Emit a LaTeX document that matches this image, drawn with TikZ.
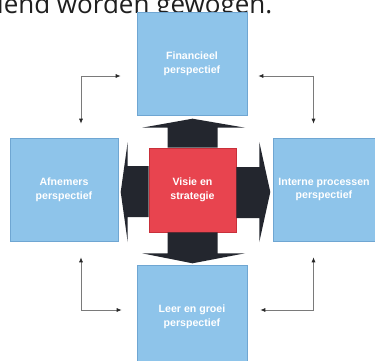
\documentclass[tikz,border=0pt]{standalone}
\usepackage{fontspec}
\newfontfamily\boxfont{Liberation Sans}
\newfontfamily\headfont{Open Sans}
\usetikzlibrary{arrows.meta,calc}
\definecolor{boxblue}{HTML}{8EC4EA}
\definecolor{boxedge}{HTML}{6FA6D2}
\definecolor{visred}{HTML}{E8444F}
\definecolor{rededge}{HTML}{C8303A}
\definecolor{blockblack}{HTML}{23262E}
\definecolor{connline}{HTML}{7A7A7A}
\tikzset{
  persp/.style={draw=boxedge, line width=0.6pt, fill=boxblue, minimum width=110pt, minimum height=103pt, inner sep=0pt,
    align=center, text=white, font=\boxfont\bfseries\fontsize{10.6}{13.8}\selectfont},
  visbox/.style={persp, draw=rededge, fill=visred, minimum width=87pt, minimum height=84pt},
  blk/.style={fill=blockblack},
  conn/.style={draw=connline, line width=0.7pt, {Latex[length=5pt,width=4pt,color=black!85]}-{Latex[length=5pt,width=4pt,color=black!85]}}
}
\begin{document}
\begin{tikzpicture}[x=1pt,y=-1pt]
\useasboundingbox (0,0) rectangle (375,361);
\fill[white] (0,0) rectangle (375,361);
% heading line (cut off at top)
\node[anchor=base west, inner sep=0pt, text=black!88, font=\headfont\fontsize{26}{30}\selectfont] (head) at (-3,13.5) {lend worden gewogen.};
% boxes
\node[persp] (fin) at (192,64) {Financieel\\perspectief};
\node[persp, minimum width=108pt] (afn) at (64,189.5) {Afnemers\\perspectief};
\node[persp] (int) at (328,189.5) {};
\node[align=center, text=white, font=\boxfont\bfseries\fontsize{10.6}{13.8}\selectfont, inner sep=0pt] (intlabel) at (324,189.5) {Interne processen\\perspectief};
\node[persp] (leer) at (192,316.5) {Leer en groei\\perspectief};
\node[visbox] (vis) at (192.5,190) {Visie en\\strategie};
% block arrows
\fill[blk] ($(vis.north)+(-25,0)$) -- ++(0,-20) -- ++(-25.5,0) -- ($(vis.north)+(0,-29)$)
  -- ($(vis.north)+(52.5,-20)$) -- ($(vis.north)+(25,-20)$) -- ($(vis.north)+(25,0)$) -- cycle;
\fill[blk] ($(vis.south)+(-25,0)$) -- ++(0,21) -- ++(-25.5,0) -- ($(vis.south)+(0,31)$)
  -- ($(vis.south)+(52.5,21)$) -- ($(vis.south)+(25,21)$) -- ($(vis.south)+(25,0)$) -- cycle;
\fill[blk] ($(vis.west)+(0,-24)$) -- ++(-21,0) -- ++(0,-24) -- ($(vis.west)+(-28,2)$)
  -- ($(vis.west)+(-21,52)$) -- ($(vis.west)+(-21,27)$) -- ($(vis.west)+(0,27)$) -- cycle;
\fill[blk] ($(vis.east)+(0,-23)$) -- ++(23,0) -- ++(0,-25) -- ($(vis.east)+(34,2)$)
  -- ($(vis.east)+(23,52)$) -- ($(vis.east)+(23,28)$) -- ($(vis.east)+(0,28)$) -- cycle;
% connectors
\coordinate (c1) at (81,76);
\coordinate (c2) at (313.5,76);
\coordinate (c3) at (81,310);
\coordinate (c4) at (313.5,310);
\draw[conn, shorten <=16pt, shorten >=14pt] (c1 -| fin.west) -- (c1) -- (c1 |- afn.north);
\draw[conn, shorten <=11pt, shorten >=14pt] (c2 -| fin.east) -- (c2) -- (c2 |- int.north);
\draw[conn, shorten <=16pt, shorten >=15pt] (c3 |- afn.south) -- (c3) -- (c3 -| leer.west);
\draw[conn, shorten <=16pt, shorten >=13pt] (c4 |- int.south) -- (c4) -- (c4 -| leer.east);
\end{tikzpicture}
\end{document}
